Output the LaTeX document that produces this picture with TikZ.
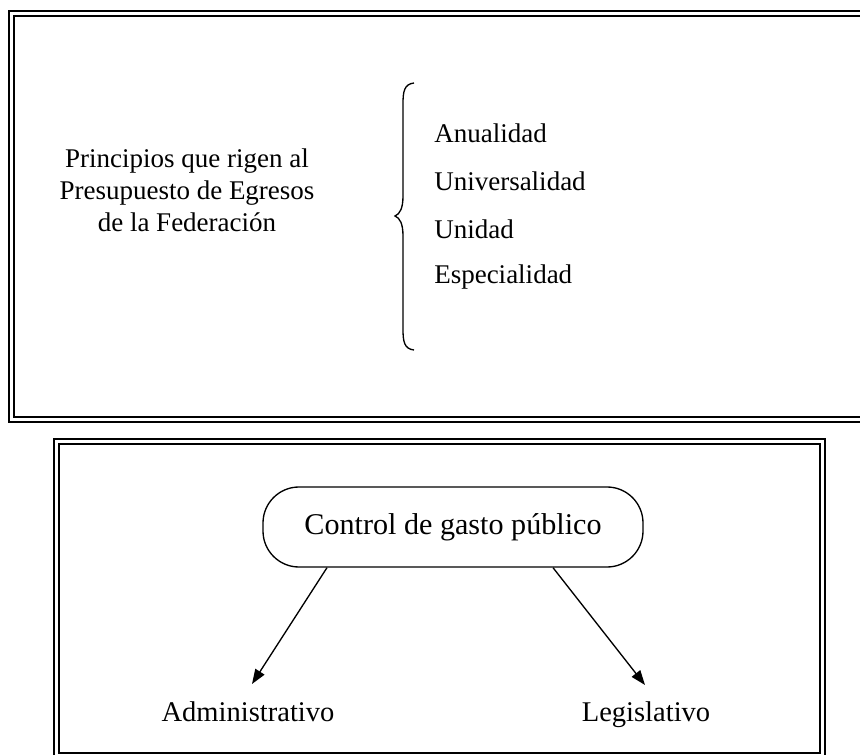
\documentclass[tikz,border=0pt]{standalone}
\usepackage{fontspec}
\setmainfont{Liberation Serif}
\usetikzlibrary{arrows.meta}
\begin{document}
\begin{tikzpicture}[x=0.75pt,y=-0.75pt,
  frame/.style={draw=black,line width=1.8pt,double=white,double distance=1.95pt},
  txt/.style={font=\fontsize{20.25}{24}\selectfont,inner sep=0pt},
  btxt/.style={font=\fontsize{21.4}{25}\selectfont,inner sep=0pt,anchor=base},
  item/.style={txt,anchor=west},
  pill/.style={draw,line width=1pt,rounded corners=27pt,minimum width=285pt,minimum height=60pt,font=\fontsize{22.6}{27}\selectfont},
  conn/.style={line width=1pt,-{Triangle[length=11pt,width=8pt]}},
  bracestyle/.style={line width=1pt}]
\clip (0,0) rectangle (860,755);
\draw[frame] (11.5,13.5) rectangle (885,419.5);
\draw[frame] (56.5,441.5) rectangle (822.5,755.5);
\node[txt,align=center] (title) at (187,190) {Principios que rigen al\\Presupuesto de Egresos\\de la Federación};
\draw[bracestyle] (414,83) .. controls (404,84) and (403,92) .. (403,104) -- (403,196)
  .. controls (403,208) and (400,214) .. (395,216)
  .. controls (400,218) and (403,224) .. (403,236) -- (403,329)
  .. controls (403,341) and (404,349) .. (414,350);
\node[item] (i1) at (434,133) {Anualidad};
\node[item] (i2) at (434,181) {Universalidad};
\node[item] (i3) at (434,229) {Unidad};
\node[item] (i4) at (434,277) {Especialidad};
\node[pill] (ctrl) at (453,527) {Control de gasto público};
\node[btxt] (adm) at (248,721) {Administrativo};
\node[btxt] (leg) at (646,721) {Legislativo};
\coordinate (admin) at (252,684);
\coordinate (legin) at (645,685);
\draw[conn] ([xshift=-94.5pt]ctrl.south) -- (admin);
\draw[conn] ([xshift=75pt]ctrl.south) -- (legin);
\end{tikzpicture}
\end{document}
